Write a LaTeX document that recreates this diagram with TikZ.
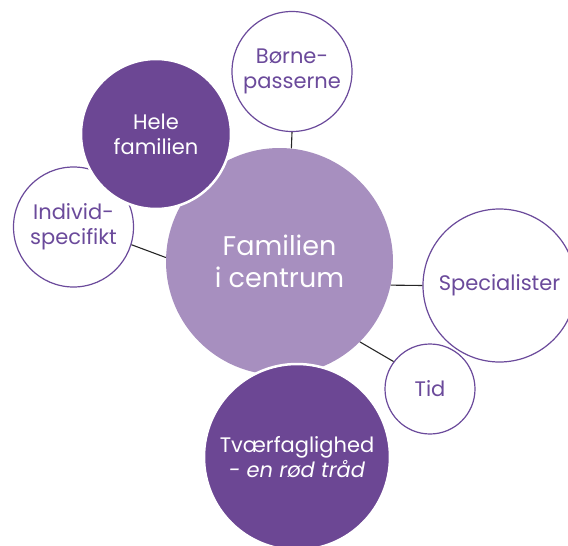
\documentclass[tikz,border=0pt]{standalone}
\usepackage{fontspec}
\setmainfont{Poppins}
\definecolor{darkpurple}{HTML}{6C4794}
\definecolor{lightpurple}{HTML}{A78FBF}
\definecolor{linepurple}{HTML}{6B4A9B}

\begin{document}
\begin{tikzpicture}[x=1pt,y=-1pt,
    bubble/.style={circle,inner sep=0pt,align=center,text=linepurple,draw=linepurple,fill=white,line width=1.2pt,font=\fontsize{21}{25}\selectfont},
    filled/.style={circle,inner sep=0pt,align=center,text=white,draw=white,line width=2.5pt,fill=darkpurple,font=\fontsize{21}{25}\selectfont},
    link/.style={draw=black!85,line width=1.1pt}]
                \useasboundingbox (0,0) rectangle (568,546);
                \clip (0,0) rectangle (568,546);
                \node[circle,inner sep=0pt,fill=lightpurple,text=white,align=center,minimum size=227pt,font=\fontsize{27}{32}\selectfont] (centrum) at (279.5,261.5) {Familien\\i centrum};
                \node[bubble,minimum size=120pt] (individ) at (73.5,227) {Individ-\\specifikt};
                \node[filled,minimum size=150pt] (hele) at (156,134) {Hele\\familien};
                \node[filled,minimum size=186pt] (tvaer) at (297,457) {Tværfaglighed\\\textit{- en rød tråd}};
                \node[bubble,minimum size=120pt] (boerne) at (292,71.5) {Børne-\\passerne};
                \node[bubble,minimum size=153pt] (special) at (499.5,285.5) {Specialister};
                \node[bubble,minimum size=90pt] (tid) at (430,389) {Tid};
                \draw[link] (boerne.south) -- (centrum.84);
                \draw[link] (individ.-17) -- (centrum.178);
                \draw[link] (special.west) -- (centrum.-12);
                \draw[link] (tid.143) -- (centrum.-45);
            \end{tikzpicture}
\end{document}
